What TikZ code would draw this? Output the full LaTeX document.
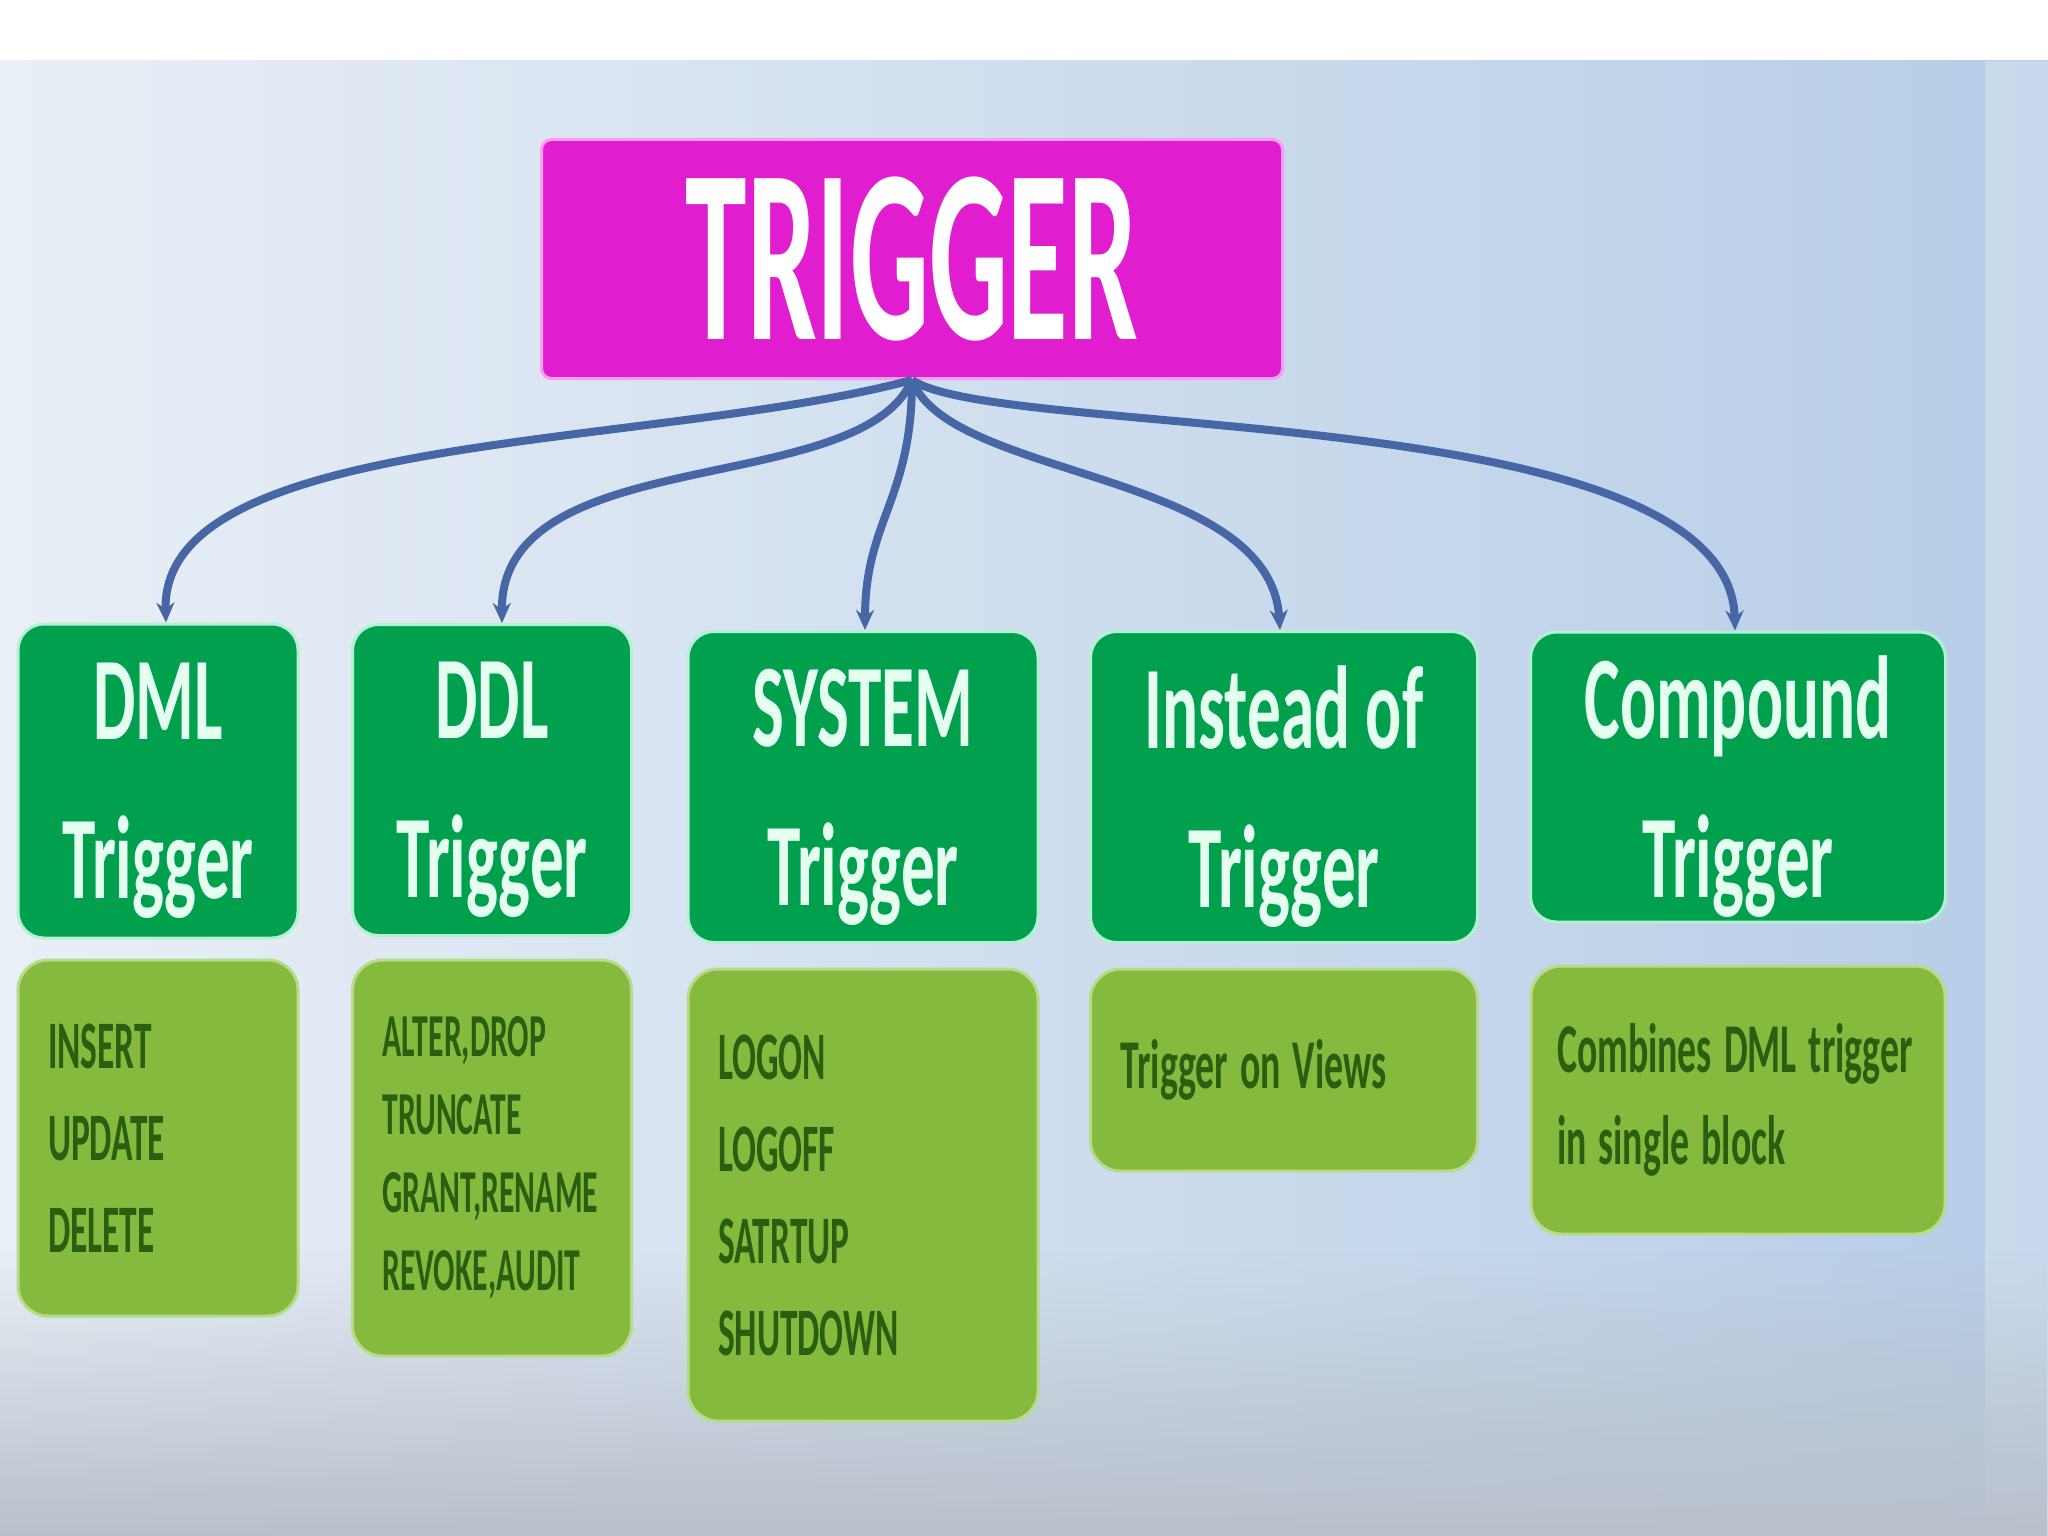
\documentclass[tikz,border=0pt]{standalone}
\usepackage{fontspec}
\setmainfont{Carlito}
\newfontfamily\titlefont[FakeStretch=0.5]{Carlito}
\newfontfamily\hdrfont[FakeStretch=0.57]{Carlito}
\newfontfamily\bodyfont[FakeStretch=0.52]{Carlito}
\newfontfamily\bodywfont[FakeStretch=0.54]{Carlito}
\newcommand\bodyspace{\fontdimen2\font=12pt\fontdimen3\font=2pt\fontdimen4\font=2pt\relax}
\usetikzlibrary{arrows.meta,fadings}
\definecolor{bgL}{HTML}{E9EFF6}
\definecolor{bgR}{HTML}{B6CDE7}
\definecolor{bgGrey}{HTML}{B9C0CB}
\definecolor{mag}{HTML}{E01ECF}
\definecolor{magglow}{HTML}{F4A0EC}
\definecolor{hgreen}{HTML}{00A04F}
\definecolor{htext}{HTML}{E4FFF0}
\definecolor{hglow}{HTML}{B4F0D4}
\definecolor{lgreen}{HTML}{86BA3E}
\definecolor{lglow}{HTML}{B6DC8A}
\definecolor{dgreen}{HTML}{2A5E10}
\definecolor{connc}{HTML}{4766A6}
\tikzset{
  title/.style={fill=mag, draw=magglow, line width=3pt, rounded corners=10pt, inner sep=0pt,
    text=white, font=\titlefont\bfseries\fontsize{248}{248}\selectfont},
  hdr/.style={fill=hgreen, draw=hglow, line width=3pt, rounded corners=26pt, inner sep=0pt,
    text=htext, align=center, text depth=0pt,
    font=\hdrfont\bfseries\fontsize{118}{159}\selectfont},
  body/.style={fill=lgreen, draw=lglow, line width=3pt, rounded corners=30pt, inner xsep=30pt,
    inner ysep=0pt, text=dgreen, align=flush left, font=\bodyfont\bfseries\fontsize{68}{92}\selectfont},
  bodyw/.style={body, font=\bodywfont\bfseries\fontsize{70}{92}\selectfont\bodyspace},
  conn/.style={draw=connc, line width=8pt, -{Stealth[length=20pt,width=18pt]}}
}
\begin{document}
\begin{tikzpicture}[x=1pt,y=-1pt]
\useasboundingbox (0,0) rectangle (2048,1536);
% background
\fill[white] (0,0) rectangle (2048,61);
\shade[left color=bgL, right color=bgR] (0,61) rectangle (2048,1536);
\fill[white, opacity=0.25] (1985,61) rectangle (2048,1536);
\fill[bgGrey, path fading=north] (0,1250) rectangle (2048,1536);

% nodes
\node[title, minimum width=741pt, minimum height=239pt] (trig) at (912,259) {TRIGGER};

\node[hdr, minimum width=280pt, minimum height=314pt] (dml) at (158,781) {DML\\Trigger};
\node[hdr, minimum width=279pt, minimum height=311pt] (ddl) at (492,780) {DDL\\Trigger};
\node[hdr, minimum width=350pt, minimum height=311pt] (sys) at (863,787) {SYSTEM\\Trigger};
\node[hdr, minimum width=387pt, minimum height=311pt] (ins) at (1284,787) {Instead of\\Trigger};
\node[hdr, minimum width=415pt, minimum height=290pt] (cmp) at (1738,777) {Compound\\Trigger};

\node[body, text width=220pt, minimum height=356pt] (dmlb) at (158,1138) {INSERT\\UPDATE\\DELETE};
\node[body, text width=219pt, minimum height=396pt, font=\bodyfont\bfseries\fontsize{61}{78}\selectfont] (ddlb) at (492,1158) {ALTER,DROP\\TRUNCATE\\GRANT,RENAME\\REVOKE,AUDIT};
\node[body, text width=290pt, minimum height=452pt] (sysb) at (863,1195) {LOGON\\LOGOFF\\SATRTUP\\SHUTDOWN};
\node[bodyw, text width=327pt, minimum height=202pt] (insb) at (1284,1070) {Trigger on Views};
\node[bodyw, text width=362pt, minimum height=268pt, inner xsep=26pt] (cmpb) at (1738,1100) {Combines DML trigger\\in single block};

% connectors
\draw[conn] (trig.south) .. controls (650,450) and (160,430) .. ([xshift=8pt]dml.north);
\draw[conn] (trig.south) .. controls (860,500) and (500,440) .. ([xshift=10pt]ddl.north);
\draw[conn] (trig.south) .. controls (912,500) and (865,520) .. ([xshift=2pt]sys.north);
\draw[conn] (trig.south) .. controls (950,480) and (1270,470) .. ([xshift=-4pt]ins.north);
\draw[conn] (trig.south) .. controls (1000,440) and (1730,400) .. ([xshift=-3pt]cmp.north);
\end{tikzpicture}
\end{document}
